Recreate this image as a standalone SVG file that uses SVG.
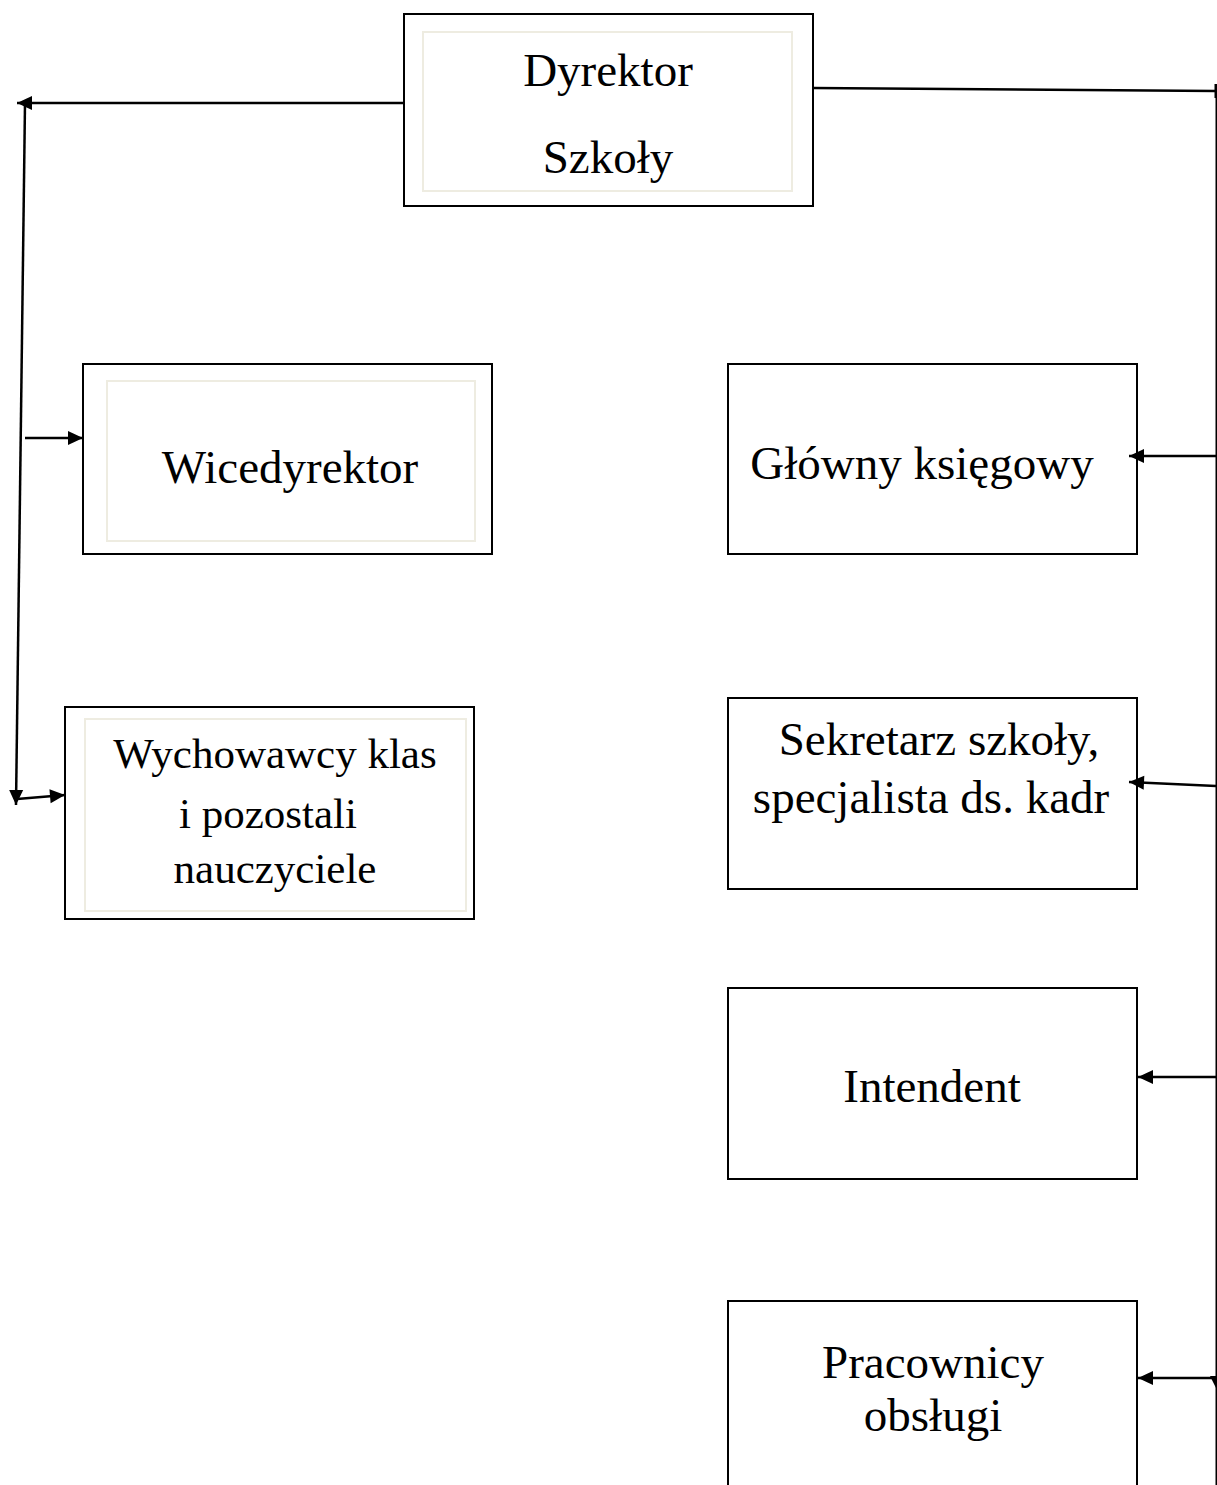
<svg xmlns="http://www.w3.org/2000/svg" width="1217" height="1485" viewBox="0 0 1217 1485">
<style>
.box{fill:#fff;stroke:#000;stroke-width:2}
.inner{fill:none;stroke:#eeece1;stroke-width:2}
.t{font-family:"Liberation Serif","Times New Roman",serif;font-size:47px;fill:#000;text-anchor:middle}
.t2{font-family:"Liberation Serif","Times New Roman",serif;font-size:43px;fill:#000;text-anchor:middle}
.c{fill:none;stroke:#000;stroke-width:2.5}
</style>
<defs>
<marker id="ah" markerUnits="userSpaceOnUse" markerWidth="16" markerHeight="15" refX="15" refY="7" orient="auto" overflow="visible">
<path d="M0,0 L15,7 L0,14 z" fill="#000"/>
</marker>
</defs>
<rect width="1217" height="1485" fill="#fff"/>
<g id="dyrektor">
<rect class="box" x="404" y="14" width="409" height="192"/>
<rect class="inner" x="423" y="32" width="369" height="159"/>
<text class="t" x="608" y="86">Dyrektor</text>
<text class="t" x="608" y="173">Szkoły</text>
</g>
<g id="wicedyrektor">
<rect class="box" x="83" y="364" width="409" height="190"/>
<rect class="inner" x="107" y="381" width="368" height="160"/>
<text class="t" x="290" y="483">Wicedyrektor</text>
</g>
<g id="wychowawcy">
<rect class="box" x="65" y="707" width="409" height="212"/>
<rect class="inner" x="85" y="719" width="381" height="192"/>
<text class="t2" x="275" y="768">Wychowawcy klas</text>
<text class="t2" x="268" y="828">i pozostali</text>
<text class="t2" x="275" y="883">nauczyciele</text>
</g>
<g id="ksiegowy">
<rect class="box" x="728" y="364" width="409" height="190"/>
<text class="t" x="922" y="479">Główny księgowy</text>
</g>
<g id="sekretarz">
<rect class="box" x="728" y="698" width="409" height="191"/>
<text class="t" x="939" y="755">Sekretarz szkoły,</text>
<text class="t" x="931" y="813">specjalista ds. kadr</text>
</g>
<g id="intendent">
<rect class="box" x="728" y="988" width="409" height="191"/>
<text class="t" x="932" y="1102">Intendent</text>
</g>
<g id="pracownicy">
<rect class="box" x="728" y="1301" width="409" height="200"/>
<text class="t" x="933" y="1378">Pracownicy</text>
<text class="t" x="933" y="1431">obsługi</text>
</g>
<g id="connectors">
<line class="c" x1="404" y1="103" x2="17" y2="103" marker-end="url(#ah)"/>
<line class="c" x1="25" y1="103" x2="16" y2="805" marker-end="url(#ah)"/>
<line class="c" x1="25" y1="438" x2="83" y2="438" marker-end="url(#ah)"/>
<line class="c" x1="17" y1="799" x2="65" y2="795" marker-end="url(#ah)"/>
<line class="c" x1="813" y1="88" x2="1216" y2="91"/>
<line x1="1216" y1="84" x2="1216" y2="98" stroke="#000" stroke-width="3"/>
<line x1="1216.5" y1="91" x2="1216.5" y2="1485" stroke="#000" stroke-width="2"/>
<line class="c" x1="1216" y1="456" x2="1129" y2="456" marker-end="url(#ah)"/>
<line class="c" x1="1216" y1="786" x2="1129" y2="782" marker-end="url(#ah)"/>
<line class="c" x1="1216" y1="1077" x2="1138" y2="1077" marker-end="url(#ah)"/>
<line class="c" x1="1216" y1="1378" x2="1138" y2="1378" marker-end="url(#ah)"/>
<path d="M1210,1376 L1217,1376 L1217,1390 z" fill="#000"/>
</g>
</svg>
